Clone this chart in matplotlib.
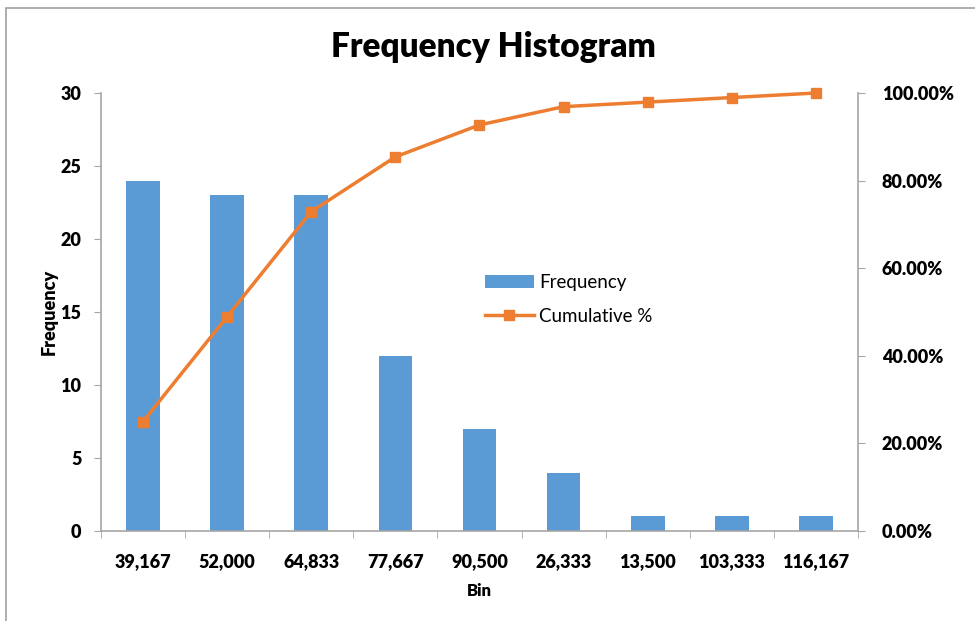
import matplotlib.pyplot as plt
import matplotlib.patches as patches
import numpy as np

plt.rcParams['font.family'] = ['Lato', 'DejaVu Sans']

bins = ['39,167', '52,000', '64,833', '77,667', '90,500', '26,333', '13,500', '103,333', '116,167']
frequency = [24, 23, 23, 12, 7, 4, 1, 1, 1]
cumulative = [0.25, 0.4896, 0.7292, 0.8542, 0.9271, 0.9688, 0.9792, 0.9896, 1.0]

bar_color = '#5B9BD5'
line_color = '#ED7D31'
axis_color = '#A6A6A6'
heavy = 'heavy'

fig = plt.figure(figsize=(9.75, 6.21), dpi=100)
ax = fig.add_axes([101 / 975, 1 - 531 / 621, (858 - 101) / 975, (531 - 93) / 621])

x = np.arange(len(bins))
bars = ax.bar(x, frequency, width=0.4, color=bar_color, label='Frequency', zorder=2)
ax.set_xlim(-0.5, len(bins) - 0.5)
ax.set_ylim(0, 30)
ax.set_yticks(range(0, 31, 5))
ax.set_yticklabels([str(v) for v in range(0, 31, 5)], fontsize=13, fontweight=heavy)
ax.set_xticks(x)
ax.set_xticklabels(bins, fontsize=13, fontweight=heavy)
ax.set_xticks(np.arange(-0.5, len(bins)), minor=True)
ax.tick_params(axis='x', which='major', length=0, pad=16)
ax.tick_params(axis='x', which='minor', length=5, color=axis_color, direction='out')
ax.tick_params(axis='y', length=5, color=axis_color, pad=9)
ax.set_xlabel('Bin', fontsize=12, fontweight=heavy, labelpad=9)
ax.set_ylabel('Frequency', fontsize=13, fontweight=heavy, labelpad=2)

ax2 = ax.twinx()
line, = ax2.plot(x, cumulative, color=line_color, lw=2.5, marker='s', markersize=7.5,
                 label='Cumulative %', zorder=3, clip_on=False)
ax2.set_ylim(0, 1)
ax2.set_yticks(np.arange(0, 1.01, 0.2))
ax2.set_yticklabels(['{:.2f}%'.format(v * 100) for v in np.arange(0, 1.01, 0.2)],
                    fontsize=13, fontweight=heavy)
ax2.tick_params(axis='y', length=5, color=axis_color, pad=12)

for a in (ax, ax2):
    a.spines['top'].set_visible(False)
    for s in ('left', 'right', 'bottom'):
        a.spines[s].set_color(axis_color)
        a.spines[s].set_linewidth(1.2)
ax.spines['right'].set_visible(False)
ax2.spines['left'].set_visible(False)
ax2.spines['bottom'].set_visible(False)

fig.legend([bars, line], ['Frequency', 'Cumulative %'], loc='upper left',
           bbox_to_anchor=(468 / 975, 1 - 257 / 621), frameon=False,
           fontsize=13.5, handlelength=2.6, handletextpad=0.3, labelspacing=0.9)

fig.text(493 / 975, 1 - 47 / 621, 'Frequency Histogram', ha='center', va='center',
         fontsize=24, fontweight=heavy)

# outer chart frame
fig.patches.append(patches.Rectangle((6 / 975, -0.05), 1.1, 1 - 8 / 621 + 0.05,
                                     transform=fig.transFigure, fill=False,
                                     edgecolor='#A0A0A0', lw=1.2))

fig.savefig('out.png', dpi=100)
